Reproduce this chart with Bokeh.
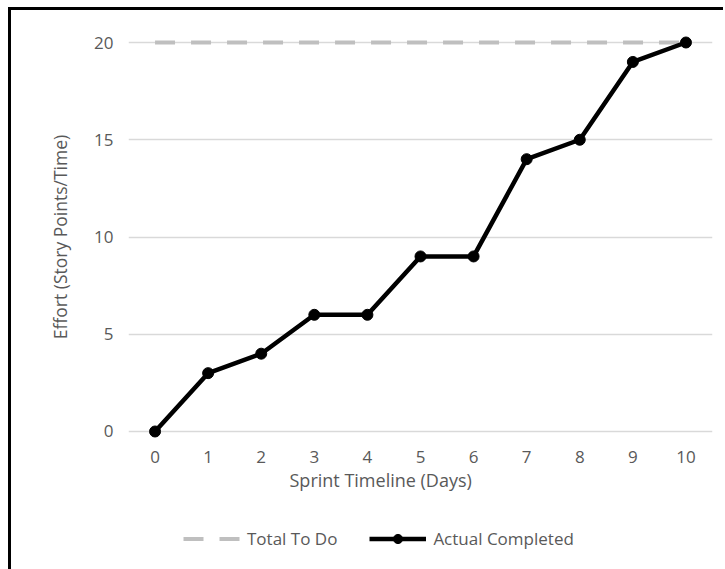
from bokeh.plotting import figure
from bokeh.layouts import column
from bokeh.models import Legend, LegendItem, FixedTicker, Range1d, Title
from bokeh.embed import file_html
from bokeh.resources import INLINE

days = ["0", "1", "2", "3", "4", "5", "6", "7", "8", "9", "10"]
total_to_do = [20, 20, 20, 20, 20, 20, 20, 20, 20, 20, 20]
actual_completed = [0, 3, 4, 6, 6, 9, 9, 14, 15, 19, 20]
y_ticks = [0, 5, 10, 15, 20]

FONT = "Open Sans"
TXT = "#595959"
FS = "17px"

TOTAL_STYLE = dict(line_color="#BFBFBF", line_width=4, line_dash="20 16")
ACTUAL_STYLE = dict(line_color="black", line_width=4.5, line_join="round")
MARK_STYLE = dict(size=11, color="black")

# ---- main chart ----
p = figure(x_range=days, width=712, height=485, output_backend="svg",
           toolbar_location=None, min_border_left=117, min_border_right=11,
           min_border_top=25, min_border_bottom=57)
# small padding so end markers are not cut by the frame
p.y_range = Range1d(-0.36, 20.36)
p.outline_line_color = None

p.line(days, total_to_do, **TOTAL_STYLE)
p.line(days, actual_completed, **ACTUAL_STYLE)
p.scatter(days, actual_completed, **MARK_STYLE)

p.xgrid.grid_line_color = None
p.ygrid.grid_line_color = "#D9D9D9"
p.ygrid.grid_line_width = 1.5
p.yaxis.ticker = FixedTicker(ticks=y_ticks)

for ax in (p.xaxis[0], p.yaxis[0]):
    ax.axis_line_color = None
    ax.major_tick_line_color = None
    ax.minor_tick_line_color = None
    ax.major_label_text_font = FONT
    ax.major_label_text_font_size = FS
    ax.major_label_text_color = TXT
    ax.axis_label_text_font = FONT
    ax.axis_label_text_font_size = "17.5px"
    ax.axis_label_text_color = TXT
    ax.axis_label_text_font_style = "normal"

p.xaxis.major_label_standoff = 6
p.yaxis.major_label_standoff = 9
p.yaxis.axis_label = "Effort (Story Points/Time)"
p.yaxis.axis_label_standoff = 19

xtitle = Title(text="Sprint Timeline (Days)", align="left", offset=161, standoff=0,
               text_font=FONT, text_font_size="18px", text_color=TXT,
               text_font_style="normal")
p.add_layout(xtitle, "below")

# ---- legend strip ----
p2 = figure(x_range=days, y_range=Range1d(100, 101), width=712, height=74,
            output_backend="svg", toolbar_location=None,
            x_axis_location=None, y_axis_location=None,
            min_border_left=0, min_border_right=0, min_border_top=0, min_border_bottom=0)
p2.outline_line_color = None
p2.grid.visible = False
l1 = p2.line(days, total_to_do, **TOTAL_STYLE)
l2 = p2.line(days, actual_completed, **ACTUAL_STYLE)
l3 = p2.scatter(days, actual_completed, **MARK_STYLE)

legend = Legend(items=[LegendItem(label="Total To Do", renderers=[l1]),
                       LegendItem(label="Actual Completed", renderers=[l2, l3])],
                orientation="horizontal", location=(55, 19),
                label_text_font=FONT, label_text_font_size=FS,
                label_text_color=TXT, border_line_color=None,
                background_fill_alpha=0, glyph_width=57, glyph_height=23,
                spacing=32, label_standoff=7, padding=0, margin=0)
p2.add_layout(legend, "center")

layout = column(p, p2, spacing=0)
layout.styles = {"border-left": "3px solid black", "border-top": "3px solid black",
                 "margin-left": "8px", "margin-top": "7px"}

open("out.html", "w").write(file_html(layout, INLINE))
